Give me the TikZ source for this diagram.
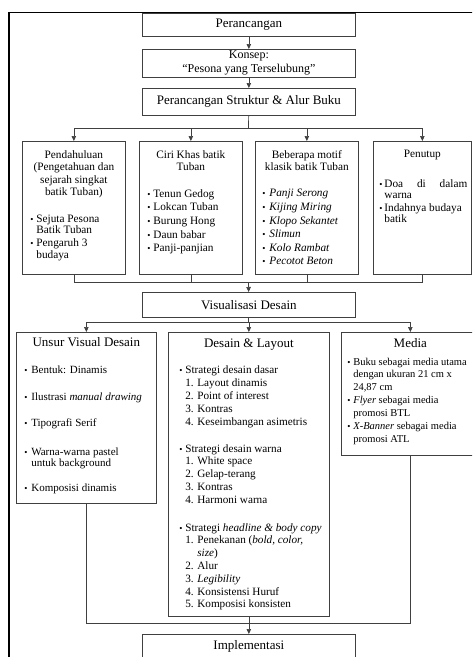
\documentclass[tikz,border=0pt]{standalone}
\usepackage{fontspec}
\setmainfont{Liberation Serif}
\usetikzlibrary{arrows.meta}
\definecolor{garis}{HTML}{404040}

\newcommand\bl[1]{\makebox[#1][l]{\fontsize{9}{9}\selectfont\textbullet}}
\newcommand\nm[1]{\hspace*{17pt}\makebox[12pt][l]{#1.}}
\newcommand\isi[3]{\parbox[t][#2][t]{#1}{#3}}

\begin{document}
\begin{tikzpicture}[x=1pt,y=-1pt,
  kotak/.style={draw=garis, line width=0.7pt, inner sep=0pt, anchor=north west},
  utama/.style={kotak, minimum width=213pt, align=center, font=\fontsize{13}{14.5}\selectfont},
  panah/.style={draw=garis, line width=0.7pt, -{Triangle[length=5pt,width=4.5pt]}},
  sambung/.style={draw=garis, line width=0.7pt}]
\useasboundingbox (0,0) rectangle (472,657);
\clip (0,0) rectangle (472,657);
% bingkai
\draw[line width=1.3pt] (9,12.5) rectangle (495,690);

% alur utama
\node[utama, minimum height=23pt] (rancang) at (142,13) {Perancangan};
\node[utama, minimum height=28pt, font=\fontsize{12}{14}\selectfont] (konsep) at (142,49) {Konsep:\\“Pesona yang Terselubung”};
\node[utama, minimum height=27pt] (struktur) at (142,88) {Perancangan Struktur \& Alur Buku};
\coordinate (pisah1) at (248.5,128);
\coordinate (gabung1) at (248.5,282);

% isi buku
\node[kotak] (pendahuluan) at (22,141) {\isi{103pt}{133pt}{%
  {\centering\fontsize{11.3}{12.5}\selectfont\rule{0pt}{17pt}Pendahuluan\\(Pengetahuan dan\\sejarah singkat\\batik Tuban)\par}
  \vspace{15pt}
  {\raggedright\fontsize{11.3}{11.5}\selectfont
  \hspace*{8pt}\bl{6pt}Sejuta Pesona\\
  \hspace*{14pt}Batik Tuban\\[1.5pt]
  \hspace*{8pt}\bl{6pt}Pengaruh 3\\
  \hspace*{14pt}budaya\par}}};
\node[kotak] (ciri) at (139,141) {\isi{103pt}{133pt}{%
  {\centering\fontsize{11.3}{12.5}\selectfont\rule{0pt}{17pt}Ciri Khas batik\\Tuban\par}
  \vspace{12.9pt}
  {\raggedright\fontsize{11.3}{13.6}\selectfont
  \hspace*{8pt}\bl{6pt}Tenun Gedog\\
  \hspace*{8pt}\bl{6pt}Lokcan Tuban\\
  \hspace*{8pt}\bl{6pt}Burung Hong\\
  \hspace*{8pt}\bl{6pt}Daun babar\\
  \hspace*{8pt}\bl{6pt}Panji-panjian\par}}};
\node[kotak] (motif) at (255,141) {\isi{103pt}{133pt}{%
  {\centering\fontsize{11.3}{12.5}\selectfont\rule{0pt}{17pt}Beberapa motif\\klasik batik Tuban\par}
  \vspace{12.4pt}
  {\raggedright\fontsize{11.3}{13.6}\selectfont
  \hspace*{7pt}\bl{7pt}\textit{Panji Serong}\\
  \hspace*{7pt}\bl{7pt}\textit{Kijing Miring}\\
  \hspace*{7pt}\bl{7pt}\textit{Klopo Sekantet}\\
  \hspace*{7pt}\bl{7pt}\textit{Slimun}\\
  \hspace*{7pt}\bl{7pt}\textit{Kolo Rambat}\\
  \hspace*{7pt}\bl{7pt}\textit{Pecotot Beton}\par}}};
\node[kotak] (penutup) at (373,141) {\isi{98pt}{133pt}{%
  {\centering\fontsize{11.3}{12.5}\selectfont\rule{0pt}{16pt}Penutup\par}
  \vspace{19pt}
  {\raggedright\fontsize{11.3}{11}\selectfont
  \hspace*{6pt}\bl{5pt}\makebox[83pt][s]{Doa di dalam}\\
  \hspace*{11pt}warna\\[2pt]
  \hspace*{6pt}\bl{5pt}Indahnya budaya\\
  \hspace*{11pt}batik\par}}};

\node[utama, minimum height=25pt] (visual) at (142,292) {Visualisasi Desain};
\coordinate (pisah2) at (248.5,322);
\coordinate (gabung2) at (248.5,623);

% visualisasi
\node[kotak] (unsur) at (16,332) {\isi{140pt}{171pt}{%
  {\centering\fontsize{13}{15}\selectfont\rule{0pt}{14.5pt}Unsur Visual Desain\par}
  \vspace{16pt}
  {\raggedright\fontsize{11}{11}\selectfont
  \hspace*{8pt}\bl{7pt}Bentuk: Dinamis\\[16pt]
  \hspace*{8pt}\bl{7pt}Ilustrasi \textit{manual drawing}\\[15pt]
  \hspace*{8pt}\bl{7pt}Tipografi Serif\\[18pt]
  \hspace*{8pt}\bl{7pt}Warna-warna pastel\\
  \hspace*{15pt}untuk background\\[14pt]
  \hspace*{8pt}\bl{7pt}Komposisi dinamis\par}}};
\node[kotak] (desain) at (168,332) {\isi{161pt}{284pt}{%
  {\centering\fontsize{13}{15}\selectfont\rule{0pt}{15pt}Desain \& Layout\par}
  \vspace{13.7pt}
  {\raggedright\fontsize{11.2}{12.8}\selectfont
  \hspace*{11pt}\bl{6pt}Strategi desain dasar\\
  \nm{1}Layout dinamis\\
  \nm{2}Point of interest\\
  \nm{3}Kontras\\
  \nm{4}Keseimbangan asimetris\\[14.2pt]
  \hspace*{11pt}\bl{6pt}Strategi desain warna\\
  \nm{1}White space\\
  \nm{2}Gelap-terang\\
  \nm{3}Kontras\\
  \nm{4}Harmoni warna\\[15pt]
  \hspace*{11pt}\bl{6pt}Strategi \textit{headline \& body copy}\\
  \nm{1}Penekanan (\textit{bold, color,}\\
  \hspace*{29pt}\textit{size})\\
  \nm{2}Alur\\
  \nm{3}\textit{Legibility}\\
  \nm{4}Konsistensi Huruf\\
  \nm{5}Komposisi konsisten\par}}};
\node[kotak] (media) at (341,332) {\isi{138pt}{123pt}{%
  {\centering\fontsize{13}{15}\selectfont\rule{0pt}{15pt}Media\par}
  \vspace{5.5pt}
  {\raggedright\fontsize{10.5}{12.5}\selectfont
  \hspace*{6pt}\bl{6pt}Buku sebagai media utama\\
  \hspace*{12pt}dengan ukuran 21 cm x\\
  \hspace*{12pt}24,87 cm\\[1pt]
  \hspace*{6pt}\bl{6pt}\textit{Flyer} sebagai media\\
  \hspace*{12pt}promosi BTL\\[1pt]
  \hspace*{6pt}\bl{6pt}\textit{X-Banner} sebagai media\\
  \hspace*{12pt}promosi ATL\par}}};

\node[utama, minimum height=25pt] (impl) at (142,634) {Implementasi};

% panah
\draw[panah] (rancang) -- (konsep);
\draw[panah] (konsep) -- (struktur);
\draw[sambung] (struktur) -- (pisah1);
\foreach \k in {pendahuluan,ciri,motif,penutup}
  \draw[panah] (pisah1) -| (\k.north);
\foreach \k in {pendahuluan,ciri,motif,penutup}
  \draw[sambung] (\k.south) |- (gabung1);
\draw[panah] (gabung1) -- (visual);
\draw[sambung] (visual) -- (pisah2);
\foreach \k in {unsur,desain,media}
  \draw[panah] (pisah2) -| (\k.north);
\draw[sambung] (unsur.south) |- (gabung2);
\draw[sambung] (media.south) |- (gabung2);
\draw[panah] (desain) -- (impl);
\end{tikzpicture}
\end{document}
